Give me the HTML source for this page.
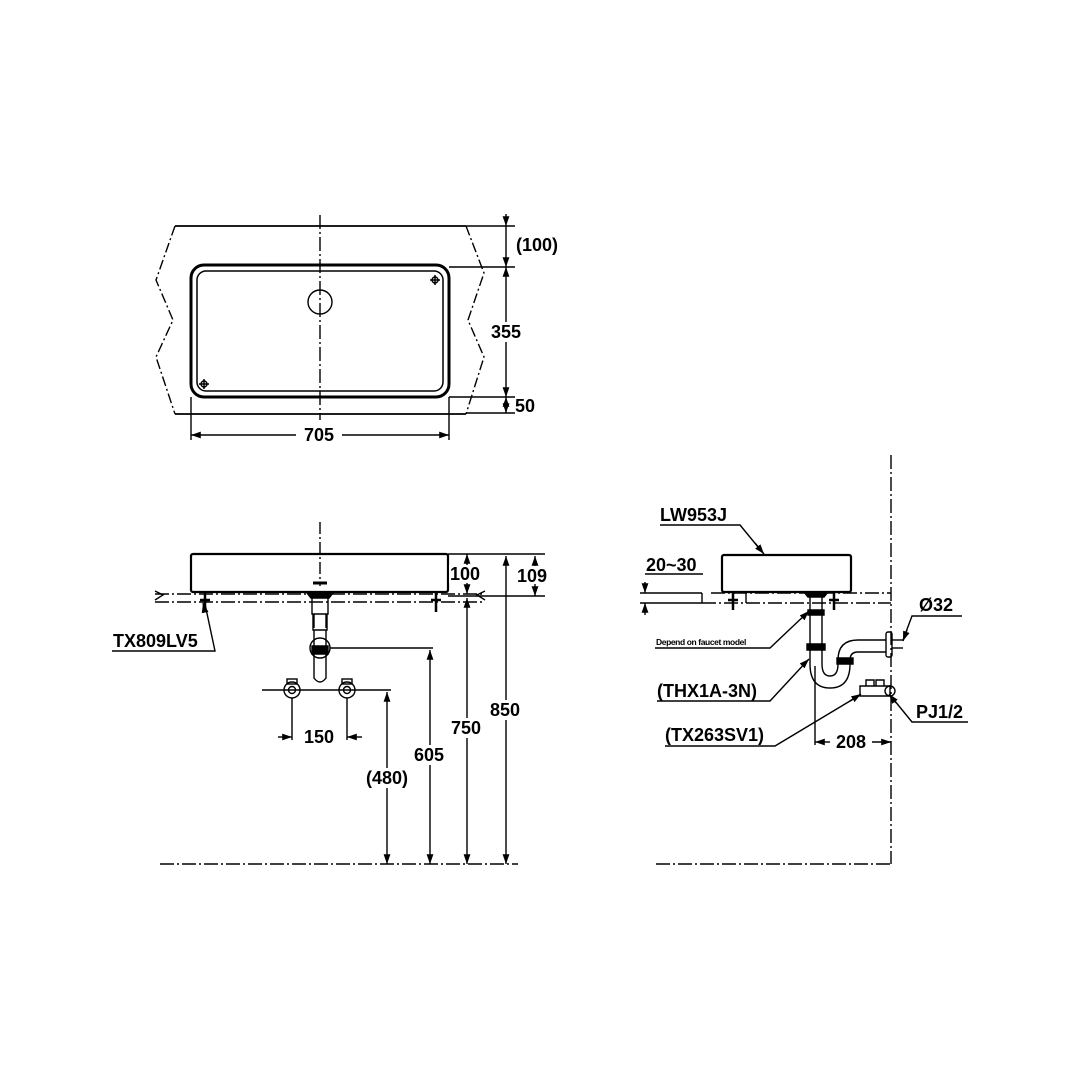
<!DOCTYPE html>
<html><head><meta charset="utf-8"><style>
html,body{margin:0;padding:0;background:#fff}
svg{display:block}
text{font-family:"Liberation Sans",Arial,sans-serif;font-weight:bold;fill:#000}
</style></head><body>
<svg width="1080" height="1080" viewBox="0 0 1080 1080" xmlns="http://www.w3.org/2000/svg">
<defs>
<marker id="a" viewBox="0 0 10 10" refX="10" refY="5" markerWidth="7" markerHeight="7" orient="auto-start-reverse"><path d="M0,1.5 L10,5 L0,8.5 z" fill="#000"/></marker>
</defs>
<g fill="none" stroke="#000" stroke-width="1.4">
<!-- TOP VIEW -->
<line x1="175" y1="226" x2="466" y2="226" stroke-width="1.8"/>
<line x1="175" y1="414" x2="466" y2="414" stroke-width="1.8"/>
<polyline points="175,226 156,280 173,320 156,357 175,414" stroke-dasharray="10,3,2,3"/>
<polyline points="466,226 484,273 468,320 484,357 466,414" stroke-dasharray="10,3,2,3"/>
<rect x="191" y="265" width="258" height="132" rx="13" stroke-width="3"/>
<rect x="197" y="271" width="246" height="120" rx="9" stroke-width="1.5"/>
<circle cx="320" cy="302" r="12"/>
<line x1="320" y1="215" x2="320" y2="420" stroke-dasharray="14,3,2,3"/>
<path d="M430,280h10M435,275v10M199,384h10M204,379v10" stroke-width="1.5"/>
<circle cx="435" cy="280" r="3"/><circle cx="204" cy="384" r="3"/>
<line x1="466" y1="226" x2="515" y2="226"/>
<line x1="449" y1="267" x2="515" y2="267"/>
<line x1="449" y1="397" x2="515" y2="397"/>
<line x1="466" y1="413" x2="515" y2="413"/>
<line x1="506" y1="214" x2="506" y2="226" marker-end="url(#a)"/>
<line x1="506" y1="226" x2="506" y2="267" marker-end="url(#a)"/>
<line x1="506" y1="267" x2="506" y2="397" marker-start="url(#a)" marker-end="url(#a)"/>
<line x1="506" y1="397" x2="506" y2="413" marker-start="url(#a)" marker-end="url(#a)"/>
<line x1="191" y1="397" x2="191" y2="440"/>
<line x1="449" y1="397" x2="449" y2="440"/>
<line x1="191" y1="435" x2="296" y2="435" marker-start="url(#a)"/>
<line x1="342" y1="435" x2="449" y2="435" marker-end="url(#a)"/>

<!-- FRONT VIEW -->
<rect x="191" y="554" width="257" height="38" rx="2" stroke-width="2.2"/>
<line x1="155" y1="594" x2="485" y2="594" stroke-dasharray="14,3,2,3"/>
<line x1="155" y1="602" x2="485" y2="602" stroke-dasharray="14,3,2,3"/>
<path d="M155,591 l8,4 l-8,5 M485,591 l-8,4 l8,5"/>
<line x1="320" y1="522" x2="320" y2="586" stroke-dasharray="12,3,2,3"/>
<path d="M313,583h14" stroke-width="3"/>
<path d="M307,593h26l-4,5h-18z" fill="#000"/>
<path d="M312,598v16h16v-16M314,614v14M326,614v14M313,630h14v-16h-14z M314,630v48q6,8 12,0v-48"/>
<circle cx="320" cy="648" r="10"/>
<path d="M312,646h16v8h-16z" fill="#000"/>
<path d="M205,592v20M200,600h10M436,592v20M431,600h10" stroke-width="2.5"/>
<line x1="330" y1="648" x2="433" y2="648"/>
<line x1="262" y1="690" x2="391" y2="690"/>
<circle cx="292" cy="690" r="8"/><circle cx="292" cy="690" r="3.5"/>
<circle cx="347" cy="690" r="8"/><circle cx="347" cy="690" r="3.5"/>
<rect x="287" y="679" width="10" height="5"/><rect x="342" y="679" width="10" height="5"/>
<line x1="292" y1="698" x2="292" y2="740"/>
<line x1="347" y1="698" x2="347" y2="740"/>
<line x1="278" y1="737" x2="292" y2="737" marker-end="url(#a)"/>
<line x1="362" y1="737" x2="347" y2="737" marker-end="url(#a)"/>
<line x1="448" y1="554" x2="545" y2="554"/>
<line x1="448" y1="596" x2="545" y2="596"/>
<line x1="160" y1="864" x2="518" y2="864" stroke-dasharray="14,3,2,3"/>
<line x1="387" y1="692" x2="387" y2="864" marker-start="url(#a)" marker-end="url(#a)"/>
<line x1="430" y1="650" x2="430" y2="864" marker-start="url(#a)" marker-end="url(#a)"/>
<line x1="467" y1="554" x2="467" y2="594" marker-start="url(#a)" marker-end="url(#a)"/>
<line x1="467" y1="598" x2="467" y2="864" marker-start="url(#a)" marker-end="url(#a)"/>
<line x1="506" y1="556" x2="506" y2="864" marker-start="url(#a)" marker-end="url(#a)"/>
<line x1="535" y1="556" x2="535" y2="596" marker-start="url(#a)" marker-end="url(#a)"/>
<polyline points="112,651 215,651 205,604" />
<line x1="205" y1="612" x2="203" y2="603" marker-end="url(#a)"/>

<!-- SIDE VIEW -->
<line x1="891" y1="455" x2="891" y2="864" stroke-dasharray="14,3,2,3"/>
<line x1="656" y1="864" x2="891" y2="864" stroke-dasharray="14,3,2,3"/>
<rect x="722" y="555" width="129" height="37" rx="2" stroke-width="2.2"/>
<line x1="640" y1="593" x2="702" y2="593"/>
<line x1="702" y1="593" x2="702" y2="603"/>
<line x1="702" y1="603" x2="891" y2="603" stroke-dasharray="14,3,2,3"/>
<line x1="711" y1="593" x2="891" y2="593" stroke-dasharray="14,3,2,3"/>
<line x1="640" y1="603" x2="702" y2="603"/>
<line x1="746" y1="593" x2="746" y2="603"/>
<line x1="645" y1="582" x2="645" y2="593" marker-end="url(#a)"/>
<line x1="645" y1="615" x2="645" y2="603" marker-end="url(#a)"/>
<line x1="645" y1="574" x2="703" y2="574"/>
<path d="M733,592v18M728,600h10M834,592v18M829,600h10" stroke-width="2.5"/>
<path d="M804,592h24l-4,5h-16z" fill="#000"/>
<path d="M810,597v67M822,597v67"/>
<path d="M808,610h16v5h-16zM807,644h18v6h-18zM837,658h16v6h-16z" fill="#000"/>
<path d="M810,664 q0,24 20,24 q20,0 20,-24 M822,664 q0,12 8,12 q8,0 8,-12"/>
<path d="M838,664 v-4 q0,-20 20,-20 h28 M850,664 v-4 q0,-8 8,-8 h28"/>
<rect x="886" y="632" width="6" height="25" rx="2"/>
<line x1="892" y1="640" x2="903" y2="640"/>
<line x1="892" y1="648" x2="903" y2="648"/>
<path d="M860,686h30v10h-30z M866,680h8v6h-8z M876,680h8v6h-8z"/>
<circle cx="890" cy="691" r="5"/>
<line x1="815" y1="666" x2="815" y2="745"/>
<line x1="830" y1="742" x2="815" y2="742" marker-end="url(#a)"/>
<line x1="872" y1="742" x2="891" y2="742" marker-end="url(#a)"/>
<polyline points="660,525 740,525 763,553"/>
<line x1="755" y1="543" x2="764" y2="554" marker-end="url(#a)"/>
<polyline points="655,648 770,648 808,612"/>
<line x1="802" y1="618" x2="809" y2="611" marker-end="url(#a)"/>
<polyline points="657,701 770,701 808,660"/>
<line x1="802" y1="666" x2="809" y2="659" marker-end="url(#a)"/>
<polyline points="665,746 775,746 860,695"/>
<line x1="850" y1="701" x2="861" y2="694" marker-end="url(#a)"/>
<polyline points="968,722 912,722 890,695"/>
<line x1="896" y1="703" x2="889" y2="694" marker-end="url(#a)"/>
<polyline points="962,616 912,616 903,640"/>
<line x1="907" y1="630" x2="903" y2="641" marker-end="url(#a)"/>
</g>
<g font-size="18">
<text x="537" y="251" text-anchor="middle">(100)</text>
<rect x="488" y="322" width="38" height="20" fill="#fff"/>
<text x="506" y="338" text-anchor="middle">355</text>
<text x="525" y="412" text-anchor="middle">50</text>
<text x="319" y="441" text-anchor="middle">705</text>
<text x="319" y="743" text-anchor="middle">150</text>
<rect x="364" y="768" width="47" height="20" fill="#fff"/>
<text x="387" y="784" text-anchor="middle">(480)</text>
<rect x="411" y="745" width="38" height="20" fill="#fff"/>
<text x="429" y="761" text-anchor="middle">605</text>
<rect x="448" y="718" width="38" height="20" fill="#fff"/>
<text x="466" y="734" text-anchor="middle">750</text>
<rect x="487" y="700" width="38" height="20" fill="#fff"/>
<text x="505" y="716" text-anchor="middle">850</text>
<rect x="449" y="565" width="34" height="18" fill="#fff"/>
<text x="465" y="580" text-anchor="middle">100</text>
<rect x="515" y="566" width="36" height="18" fill="#fff"/>
<text x="532" y="582" text-anchor="middle">109</text>
<text x="113" y="647">TX809LV5</text>
<text x="660" y="521">LW953J</text>
<text x="646" y="571">20~30</text>
<text x="919" y="611">Ø32</text>
<text x="657" y="697">(THX1A-3N)</text>
<text x="916" y="718">PJ1/2</text>
<text x="665" y="741">(TX263SV1)</text>
<text x="851" y="748" text-anchor="middle">208</text>
<text x="656" y="645" font-size="8.5" letter-spacing="-0.4">Depend on faucet model</text>
</g>
</svg>
</body></html>
